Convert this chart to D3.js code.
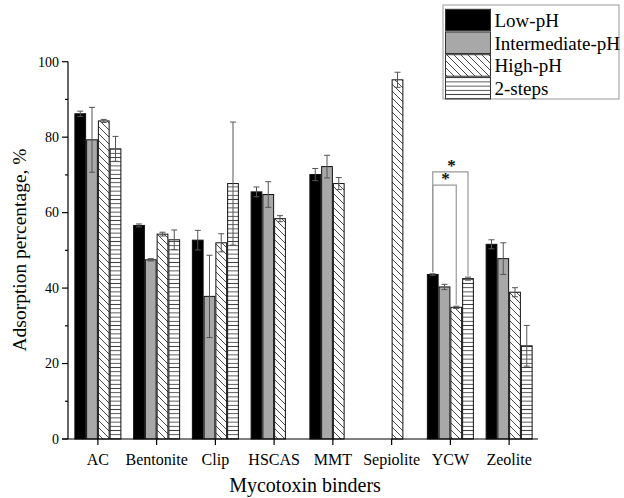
<!DOCTYPE html>
<html><head><meta charset="utf-8">
<script src="https://cdn.jsdelivr.net/npm/d3@7"></script>
<style>body{margin:0;background:#fff}svg{display:block}</style>
</head><body><svg id="c" width="624" height="498" font-family="'Liberation Serif', 'Times New Roman', Times, 'Nimbus Roman', 'DejaVu Serif', serif"></svg>
<script>
const categories = ["AC","Bentonite","Clip","HSCAS","MMT","Sepiolite","YCW","Zeolite"];
const seriesNames = ["Low-pH","Intermediate-pH","High-pH","2-steps"];
const lowPH    = [86.2, 56.6, 52.7, 65.5, 70.1, null, 43.6, 51.6];
const lowErr   = [0.7, 0.4, 2.6, 1.3, 1.6, null, 0.2, 1.2];
const interPH  = [79.3, 47.5, 37.8, 64.8, 72.2, null, 40.3, 47.8];
const interErr = [8.6, 0.3, 10.9, 3.4, 3.0, null, 0.7, 4.2];
const highPH   = [84.3, 54.3, 52.0, 58.4, 67.7, 95.2, 34.9, 38.9];
const highErr  = [0.4, 0.5, 2.4, 0.8, 1.6, 2.0, 0.3, 1.2];
const twoSteps = [76.9, 52.8, 67.7, null, null, null, 42.5, 24.7];
const twoErr   = [3.3, 2.6, 16.3, null, null, null, 0.4, 5.4];
const yTicks = [0, 20, 40, 60, 80, 100];
const yMinor = [10, 30, 50, 70, 90];
const sigCategory = ["YCW","YCW"];
const sigFrom = [0, 0];
const sigTo = [2, 3];
const sigLevel = [67.3, 70.8];

const values = [lowPH, interPH, highPH, twoSteps];
const errs = [lowErr, interErr, highErr, twoErr];

const svg = d3.select("#c");
const x = d3.scaleBand().domain(categories).range([68.5, 538.5]).paddingInner(0.2).paddingOuter(0.1);
const xs = d3.scaleBand().domain(d3.range(4)).range([0, x.bandwidth()]);
const y = d3.scaleLinear().domain([0, 100]).range([439, 61.7]);

const defs = svg.append("defs");
const pd = defs.append("pattern").attr("id","diag").attr("patternUnits","userSpaceOnUse").attr("width",7).attr("height",7);
pd.append("rect").attr("width",7).attr("height",7).attr("fill","#fff");
pd.append("path").attr("d","M-1,-1 L8,8 M-1,6 L1,8 M6,-1 L8,1").attr("stroke","#333").attr("stroke-width",0.9);
const ph = defs.append("pattern").attr("id","horiz").attr("patternUnits","userSpaceOnUse").attr("width",6).attr("height",4.2);
ph.append("rect").attr("width",6).attr("height",4.2).attr("fill","#fff");
ph.append("path").attr("d","M0,2.1 L6,2.1").attr("stroke","#444").attr("stroke-width",0.9);
const fills = ["#000", "#a8a8a8", "url(#diag)", "url(#horiz)"];

// bars
const bars = [];
categories.forEach((c,i)=>{
  for(let s=0;s<4;s++){
    if(values[s][i]!=null) bars.push({c, s, v: values[s][i], e: errs[s][i]});
  }
});
const g = svg.append("g");
g.selectAll("rect.bar").data(bars).join("rect").attr("class","bar")
  .attr("x", d=>x(d.c)+xs(d.s)+0.5).attr("y", d=>y(d.v))
  .attr("width", xs.bandwidth()-1).attr("height", d=>y(0)-y(d.v))
  .attr("fill", d=>fills[d.s]).attr("stroke","#111").attr("stroke-width",1);

// error bars
const eg = svg.append("g").attr("stroke","#555").attr("stroke-width",1).attr("fill","none");
bars.forEach(d=>{
  const cx = x(d.c)+xs(d.s)+xs.bandwidth()/2;
  eg.append("line").attr("x1",cx).attr("x2",cx).attr("y1",y(d.v+d.e)).attr("y2",y(d.v-d.e));
  eg.append("line").attr("x1",cx-3).attr("x2",cx+3).attr("y1",y(d.v+d.e)).attr("y2",y(d.v+d.e));
  eg.append("line").attr("x1",cx-3).attr("x2",cx+3).attr("y1",y(d.v-d.e)).attr("y2",y(d.v-d.e));
});

// significance brackets
const sg = svg.append("g");
sigCategory.forEach((c,k)=>{
  const ci = categories.indexOf(c);
  const a = sigFrom[k], b = sigTo[k];
  const xa = x(c)+xs(a)+xs.bandwidth()/2, xb = x(c)+xs(b)+xs.bandwidth()/2;
  const ya = y(values[a][ci]+errs[a][ci])-1.5, yb = y(values[b][ci]+errs[b][ci])-1.5;
  const yl = y(sigLevel[k]);
  sg.append("path").attr("d",`M${xa},${ya} L${xa},${yl} L${xb},${yl} L${xb},${yb}`)
    .attr("fill","none").attr("stroke","#999").attr("stroke-width",1.2);
  sg.append("text").attr("x",(xa+xb)/2+1).attr("y",yl-1).attr("text-anchor","middle")
    .attr("font-size",17).attr("font-weight","bold").attr("fill","#111").text("*");
});

// axes
const ax = svg.append("g").attr("stroke","#000").attr("stroke-width",1.2);
ax.append("line").attr("x1",68).attr("x2",68).attr("y1",y(0)).attr("y2",y(100));
ax.append("line").attr("x1",62).attr("x2",538).attr("y1",y(0)).attr("y2",y(0));
yTicks.forEach(t=>{
  ax.append("line").attr("x1",62).attr("x2",68).attr("y1",y(t)).attr("y2",y(t));
  svg.append("text").attr("x",59).attr("y",y(t)+4.8).attr("text-anchor","end").attr("font-size",14).text(t);
});
yMinor.forEach(t=>{
  ax.append("line").attr("x1",65).attr("x2",68).attr("y1",y(t)).attr("y2",y(t));
});
categories.forEach(c=>{
  const cx = x(c)+x.bandwidth()/2;
  ax.append("line").attr("x1",cx).attr("x2",cx).attr("y1",y(0)).attr("y2",y(0)+6);
  svg.append("text").attr("x",cx).attr("y",465).attr("text-anchor","middle").attr("font-size",16).text(c);
});
svg.append("text").attr("x",305).attr("y",492).attr("text-anchor","middle").attr("font-size",20).text("Mycotoxin binders");
svg.append("text").attr("transform","translate(26,250) rotate(-90)").attr("text-anchor","middle").attr("font-size",19.5).text("Adsorption percentage, %");

// legend
const lg = svg.append("g");
lg.append("rect").attr("x",443).attr("y",5).attr("width",176).attr("height",94).attr("fill","#fff").attr("stroke","#999").attr("stroke-width",1);
seriesNames.forEach((n,i)=>{
  const yy = 9.3 + i*22.7;
  lg.append("rect").attr("x",445.5).attr("y",yy).attr("width",45).attr("height",21.5).attr("fill",fills[i]).attr("stroke","#333").attr("stroke-width",1);
  lg.append("text").attr("x",494.5).attr("y",yy+17.5).attr("font-size",19).text(n);
});
</script></body></html>
